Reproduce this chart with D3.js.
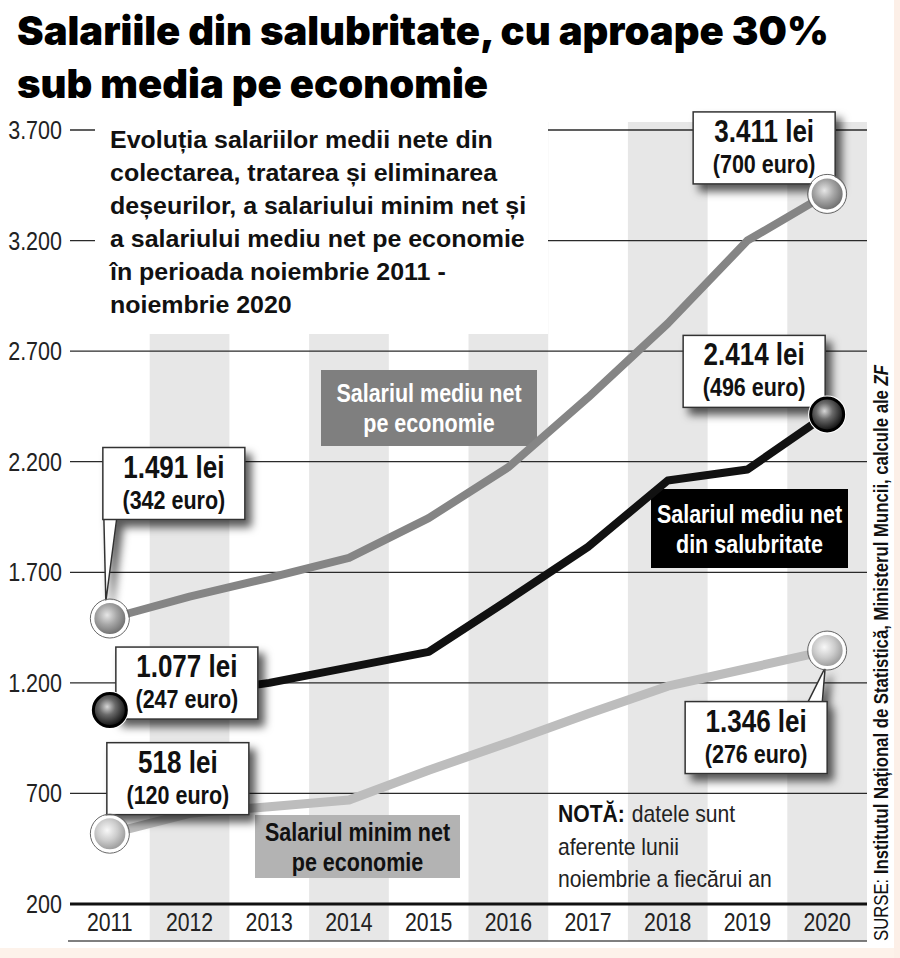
<!DOCTYPE html>
<html>
<head>
<meta charset="utf-8">
<script src="https://cdn.jsdelivr.net/npm/d3@7"></script>
<style>
  body { margin: 0; background: #fff; }
  svg { display: block; }
</style>
</head>
<body>
<div id="chart"></div>
<script>
// ---- data (lei, noiembrie a fiecarui an)
var years = [2011, 2012, 2013, 2014, 2015, 2016, 2017, 2018, 2019, 2020];
var salEconomie    = [1491, 1590, 1675, 1765, 1945, 2175, 2490, 2825, 3200, 3411];
var salSalubritate = [1077, 1150, 1200, 1270, 1340, 1575, 1815, 2115, 2165, 2414];
var salMinim       = [518, 610, 640, 670, 805, 930, 1060, 1185, 1265, 1346];
// euro equivalents for first / last year
var euroEconomie    = [342, 700];
var euroSalubritate = [247, 496];
var euroMinim       = [120, 276];
var yTicks = [200, 700, 1200, 1700, 2200, 2700, 3200, 3700];

var titleLines = ["Salariile din salubritate, cu aproape 30%", "sub media pe economie"];
var subtitleLines = [
  "Evoluția salariilor medii nete din",
  "colectarea, tratarea și eliminarea",
  "deșeurilor, a salariului minim net și",
  "a salariului mediu net pe economie",
  "în perioada noiembrie 2011 -",
  "noiembrie 2020"
];
var noteLines = ["datele sunt", "aferente lunii", "noiembrie a fiecărui an"];

var SANS = '"Liberation Sans", Arial, sans-serif';
var HEAVY = 'Inter, Lato, Roboto, "Liberation Sans", sans-serif';

var W = 900, H = 958;
var ro = d3.formatLocale({decimal: ",", thousands: ".", grouping: [3], currency: ["", " lei"]});
var fmt = ro.format(",d");

// squeeze Liberation Sans into a condensed face
function condense(sel, k) {
  sel.each(function() {
    var len = this.getComputedTextLength();
    d3.select(this).attr("textLength", len * k).attr("lengthAdjust", "spacingAndGlyphs");
  });
}

var svg = d3.select("#chart").append("svg")
  .attr("width", W)
  .attr("height", H);

var defs = svg.append("defs");

var shadow = defs.append("filter").attr("id", "shadow")
  .attr("x", "-20%").attr("y", "-20%").attr("width", "150%").attr("height", "170%");
shadow.append("feDropShadow")
  .attr("dx", 6).attr("dy", 7).attr("stdDeviation", 4)
  .attr("flood-color", "#000").attr("flood-opacity", 0.65);

function ball(id, stops) {
  var g = defs.append("radialGradient").attr("id", id)
    .attr("cx", "42%").attr("cy", "40%").attr("r", "62%");
  stops.forEach(function(s) {
    g.append("stop").attr("offset", s[0]).attr("stop-color", s[1]);
  });
}
ball("ballGrey",  [["0%", "#e6e6e6"], ["45%", "#a8a8a8"], ["100%", "#686868"]]);
ball("ballDark",  [["0%", "#d6d6d6"], ["40%", "#6a6a6a"], ["100%", "#0a0a0a"]]);
ball("ballLight", [["0%", "#f8f8f8"], ["50%", "#cccccc"], ["100%", "#959595"]]);

// frame tint at right / bottom
svg.append("rect").attr("x", 0).attr("y", 948).attr("width", W).attr("height", H - 948).attr("fill", "#fdf2ea");
svg.append("rect").attr("x", 894).attr("y", 0).attr("width", W - 894).attr("height", H).attr("fill", "#fcefe7");

// ---- scales
var x = d3.scaleBand().domain(years).range([70, 867]);
var y = d3.scaleLinear().domain([200, 3700]).range([904, 130]);
var cx = function(yr) { return x(yr) + x.bandwidth() / 2; };

// ---- title
var title = svg.append("g");
titleLines.forEach(function(t, i) {
  title.append("text")
    .attr("x", 17).attr("y", 45 + i * 53)
    .style("font-family", HEAVY).style("font-weight", 900)
    .style("font-size", "36px").attr("fill", "#000")
    .text(t);
});
// size the font so line 1 spans the width of the reference
var t0 = title.select("text").node();
var fs = 36 * 812 / t0.getComputedTextLength();
title.selectAll("text").style("font-size", fs + "px");

// ---- alternating bands
svg.append("g").selectAll("rect")
  .data(years.filter(function(d, i) { return i % 2 === 1; }))
  .enter().append("rect")
  .attr("x", function(d) { return x(d); })
  .attr("width", x.bandwidth())
  .attr("y", 122).attr("height", 941 - 122)
  .attr("fill", "#e7e7e7");

// ---- gridlines + y labels
svg.append("g").selectAll("line")
  .data(yTicks.slice(1))
  .enter().append("line")
  .attr("x1", 70).attr("x2", 867)
  .attr("y1", function(d) { return y(d); })
  .attr("y2", function(d) { return y(d); })
  .attr("stroke", "#2a2a2a").attr("stroke-width", 1.3);

svg.append("g").selectAll("text")
  .data(yTicks)
  .enter().append("text")
  .attr("x", 62)
  .attr("y", function(d) { return y(d); })
  .attr("dy", "0.36em")
  .attr("text-anchor", "end")
  .style("font-family", SANS).style("font-size", "25px")
  .attr("fill", "#222")
  .text(function(d) { return fmt(d); })
  .call(condense, 0.86);

// axis base + bottom rule
svg.append("line").attr("x1", 70).attr("x2", 867).attr("y1", y(200)).attr("y2", y(200))
  .attr("stroke", "#111").attr("stroke-width", 3);
svg.append("line").attr("x1", 68).attr("x2", 867).attr("y1", 941).attr("y2", 941)
  .attr("stroke", "#555").attr("stroke-width", 1.5);

svg.append("g").selectAll("text")
  .data(years)
  .enter().append("text")
  .attr("x", function(d) { return cx(d); })
  .attr("y", 931)
  .attr("text-anchor", "middle")
  .style("font-family", SANS).style("font-size", "25px")
  .attr("fill", "#222")
  .text(function(d) { return d; })
  .call(condense, 0.85);

// ---- subtitle on white
svg.append("rect").attr("x", 95).attr("y", 112).attr("width", 453).attr("height", 222).attr("fill", "#fff");
svg.append("g").selectAll("text")
  .data(subtitleLines)
  .enter().append("text")
  .attr("x", 110)
  .attr("y", function(d, i) { return 148 + i * 33; })
  .style("font-family", SANS).style("font-weight", "bold")
  .style("font-size", "24px").attr("fill", "#111")
  .text(function(d) { return d; })
  .call(condense, 1.04);

// ---- series labels
function seriesLabel(lines, bx, by, bw, bh, fill, color) {
  var g = svg.append("g");
  g.append("rect").attr("x", bx).attr("y", by).attr("width", bw).attr("height", bh).attr("fill", fill);
  g.selectAll("text")
    .data(lines)
    .enter().append("text")
    .attr("x", bx + bw / 2)
    .attr("y", function(d, i) { return by + bh / 2 - 6 + i * 30; })
    .attr("text-anchor", "middle")
    .style("font-family", SANS).style("font-weight", "bold").style("font-size", "25px")
    .attr("fill", color)
    .text(function(d) { return d; })
    .call(condense, 0.86);
}
seriesLabel(["Salariul mediu net", "pe economie"], 321, 370, 216, 76, "#7f7f7f", "#fff");
seriesLabel(["Salariul mediu net", "din salubritate"], 651, 489, 197, 79, "#000", "#fff");
seriesLabel(["Salariul minim net", "pe economie"], 255, 815, 205, 63, "#b3b3b3", "#111");

// ---- lines
var series = [
  {name: "minim", values: salMinim, euro: euroMinim, color: "#bdbdbd", width: 9, ball: "ballLight", ring: "#fff"},
  {name: "economie", values: salEconomie, euro: euroEconomie, color: "#858585", width: 8, ball: "ballGrey", ring: "#fff"},
  {name: "salubritate", values: salSalubritate, euro: euroSalubritate, color: "#111", width: 8, ball: "ballDark", ring: "#000"}
];

var line = d3.line()
  .x(function(d, i) { return cx(years[i]); })
  .y(function(d) { return y(d); });

svg.append("g").selectAll("path")
  .data(series)
  .enter().append("path")
  .attr("d", function(s) { return line(s.values); })
  .attr("fill", "none")
  .attr("stroke", function(s) { return s.color; })
  .attr("stroke-width", function(s) { return s.width; })
  .attr("stroke-linejoin", "round");

// ---- callouts: box offset from its point, optional tail
var callouts = [
  {s: 1, i: 0, dx: -7,   dy: -171, tail: "down"},
  {s: 1, i: 9, dx: -134, dy: -82},
  {s: 2, i: 9, dx: -144, dy: -79},
  {s: 2, i: 0, dx: 6,    dy: -63},
  {s: 0, i: 0, dx: -3,   dy: -91, tail: "down"},
  {s: 0, i: 9, dx: -142, dy: 51,  tail: "up"}
];
var BW = 142, BH = 72;

callouts.forEach(function(c) {
  var s = series[c.s];
  var px = cx(years[c.i]), py = y(s.values[c.i]);
  var bx = px + c.dx, by = py + c.dy;
  var g = svg.append("g");
  var box = g.append("g").attr("filter", "url(#shadow)");
  if (c.tail === "down") {
    box.append("path")
      .attr("d", "M" + (bx + 1) + "," + (by + BH - 2) + "L" + (px - 4) + "," + (py - 17) + "L" + (bx + 14) + "," + (by + BH - 2))
      .attr("fill", "#fff").attr("stroke", "#333").attr("stroke-width", 1.5);
  }
  if (c.tail === "up") {
    box.append("path")
      .attr("d", "M" + (bx + BW - 20) + "," + (by + 2) + "L" + (px - 2) + "," + (py + 17) + "L" + (bx + BW - 5) + "," + (by + 2))
      .attr("fill", "#fff").attr("stroke", "#333").attr("stroke-width", 1.5);
  }
  box.append("rect").attr("x", bx).attr("y", by).attr("width", BW).attr("height", BH)
    .attr("fill", "#fff").attr("stroke", "#333").attr("stroke-width", 1.5);
  g.append("text")
    .attr("x", bx + BW / 2).attr("y", by + 30)
    .attr("text-anchor", "middle")
    .style("font-family", SANS).style("font-weight", "bold").style("font-size", "31px")
    .attr("fill", "#111")
    .text(fmt(s.values[c.i]) + " lei")
    .call(condense, 0.84);
  g.append("text")
    .attr("x", bx + BW / 2).attr("y", by + 61)
    .attr("text-anchor", "middle")
    .style("font-family", SANS).style("font-weight", "bold").style("font-size", "25px")
    .attr("fill", "#111")
    .text("(" + s.euro[c.i === 0 ? 0 : 1] + " euro)")
    .call(condense, 0.86);
});

// ---- markers at first and last year
series.forEach(function(s) {
  [0, years.length - 1].forEach(function(i) {
    var g = svg.append("g").attr("transform", "translate(" + cx(years[i]) + "," + y(s.values[i]) + ")");
    if (s.ring === "#000") {
      g.append("circle").attr("r", 19).attr("fill", "#fff");
      g.append("circle").attr("r", 16.5).attr("fill", "url(#" + s.ball + ")")
        .attr("stroke", "#000").attr("stroke-width", 3);
    } else {
      g.append("circle").attr("r", 19.5).attr("fill", "none").attr("stroke", "#666").attr("stroke-width", 1);
      g.append("circle").attr("r", 17).attr("fill", "url(#" + s.ball + ")")
        .attr("stroke", "#fff").attr("stroke-width", 3);
    }
  });
});

// ---- note: bold lead-in as its own text, the rest follows it
var note = svg.append("g")
  .style("font-family", SANS).style("font-size", "24px").attr("fill", "#222");
var lead = note.append("text").attr("x", 558).attr("y", 822)
  .style("font-weight", "bold").attr("fill", "#111").text("NOTĂ:")
  .call(condense, 0.88);
var leadEnd = lead.node().getBBox();
leadEnd = leadEnd.x + leadEnd.width;
noteLines.forEach(function(t, i) {
  note.append("text")
    .attr("x", i === 0 ? leadEnd + 7 : 558)
    .attr("y", 822 + i * 32.5)
    .text(t)
    .call(condense, 0.88);
});

// ---- source, vertical
var src = svg.append("text")
  .attr("transform", "translate(888,941) rotate(-90)")
  .style("font-family", SANS).style("font-size", "19.5px").attr("fill", "#111");
src.append("tspan").text("SURSE: ");
src.append("tspan").style("font-weight", "bold").text("Institutul Național de Statistică, Ministerul Muncii, calcule ale ");
src.append("tspan").style("font-weight", "bold").style("font-style", "italic").text("ZF");
src.attr("textLength", 576).attr("lengthAdjust", "spacingAndGlyphs");
</script>
</body>
</html>
